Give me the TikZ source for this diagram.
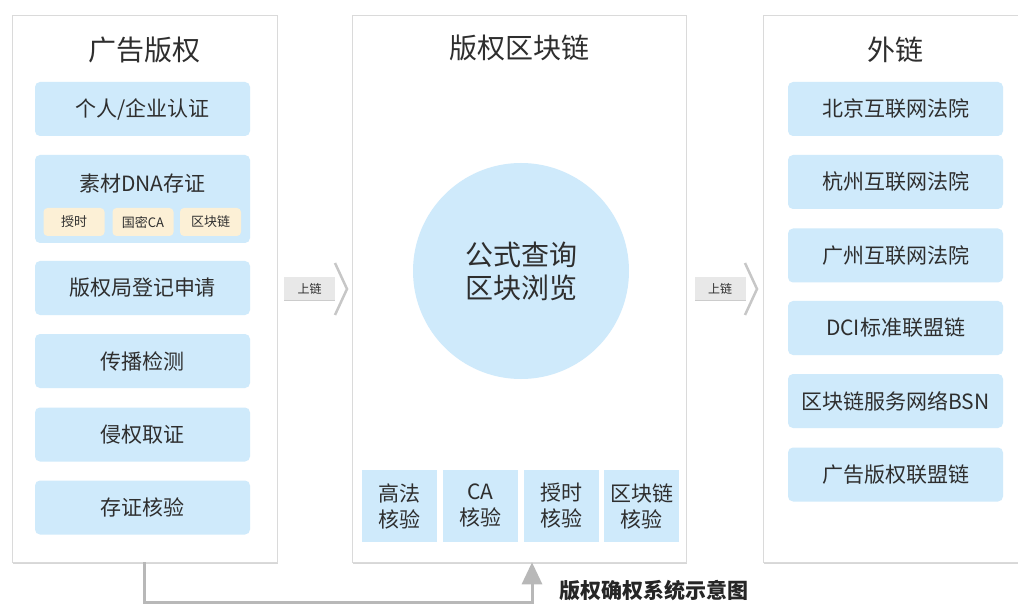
\documentclass[tikz,border=0pt]{standalone}
\usepackage{fontspec}
\setmainfont{Noto Sans CJK SC}
\usetikzlibrary{shadows,arrows.meta,calc}
\definecolor{boxblue}{HTML}{CFEAFB}
\definecolor{tagcream}{HTML}{FCF0D6}
\definecolor{txt}{HTML}{2E2E2E}
\definecolor{conn}{HTML}{B8B8B8}
\definecolor{edge}{HTML}{DADADA}
\begin{document}
\begin{tikzpicture}[x=1pt,y=-1pt,
  panel/.style={draw=edge, fill=white, line width=0.6pt, inner sep=0pt,
    drop shadow={shadow xshift=1.2pt, shadow yshift=-1.6pt, opacity=0.35, fill=black!45},
    minimum width=265pt, minimum height=547pt},
  ptitle/.style={font=\fontsize{28}{32}\selectfont, text=txt},
  item/.style={fill=boxblue, rounded corners=5pt, minimum width=215pt, minimum height=54pt,
    inner sep=0pt, font=\fontsize{21}{24}\selectfont, text=txt},
  tag/.style={fill=tagcream, rounded corners=4pt, minimum width=61pt, minimum height=28pt,
    inner sep=0pt, font=\fontsize{13}{15}\selectfont, text=txt},
  verify/.style={fill=boxblue, minimum width=75pt, minimum height=72pt, inner sep=0pt,
    align=center, font=\fontsize{21}{26}\selectfont, text=txt},
  uplabel/.style={fill=black!9, minimum width=51pt, minimum height=23pt, inner sep=0pt,
    font=\fontsize{12}{14}\selectfont, text=txt,
    drop shadow={shadow xshift=0pt, shadow yshift=-1pt, opacity=0.2, fill=black}},
  chev/.style={draw=black!22, line width=2.5pt, line join=miter},
  connline/.style={draw=conn, line width=3pt}
]
\useasboundingbox (0,0) rectangle (1018,604);

% panels
\node[panel] (left) at (144.5,288.5) {};
\node[panel, minimum width=334pt] (mid) at (519,288.5) {};
\node[panel] (right) at (895.5,288.5) {};

% titles
\node[ptitle] (lt) at (144,50) {广告版权};
\node[ptitle] (mt) at (519,48) {版权区块链};
\node[ptitle] (rt) at (895,50) {外链};

% left items
\node[item] (l1) at (142.5,109) {个人/企业认证};
\node[item, minimum height=88pt] (l2) at (142.5,199) {};
\node[font=\fontsize{21}{24}\selectfont, text=txt] (l2t) at (142.5,184) {素材DNA存证};
\node[tag] (t1) at (74,222) {授时};
\node[tag] (t2) at (143,222) {国密CA};
\node[tag] (t3) at (210.5,222) {区块链};
\node[item] (l3) at (142.5,288) {版权局登记申请};
\node[item] (l4) at (142.5,361) {传播检测};
\node[item] (l5) at (142.5,434.5) {侵权取证};
\node[item] (l6) at (142.5,507.5) {存证核验};

% middle
\node[circle, fill=boxblue, minimum size=216pt, inner sep=0pt, align=center,
  font=\fontsize{28}{33}\selectfont, text=txt] (circ) at (521,271) {公式查询\\区块浏览};
\node[verify] (v1) at (399.5,506) {高法\\核验};
\node[verify] (v2) at (480.5,506) {CA\\核验};
\node[verify] (v3) at (561,506) {授时\\核验};
\node[verify] (v4) at (641.5,506) {区块链\\核验};

% right items
\node[item] (r1) at (895.5,109) {北京互联网法院};
\node[item] (r2) at (895.5,182) {杭州互联网法院};
\node[item] (r3) at (895.5,255.5) {广州互联网法院};
\node[item] (r4) at (895.5,328) {DCI标准联盟链};
\node[item] (r5) at (895.5,401) {区块链服务网络BSN};
\node[item] (r6) at (895.5,474.5) {广告版权联盟链};

% up-chain arrows
\node[uplabel] (a1) at (309.5,288.5) {上链};
\coordinate (a1tip) at (347,289);
\draw[chev] ($(a1tip)+(-12,-26)$) -- (a1tip) -- ($(a1tip)+(-12,26)$);
\node[uplabel] (a2) at (720,288.5) {上链};
\coordinate (a2tip) at (757,289);
\draw[chev] ($(a2tip)+(-12,-26)$) -- (a2tip) -- ($(a2tip)+(-12,26)$);

% bottom connector
\coordinate (join) at (532,602);
\draw[connline, -{Triangle[width=20pt,length=22pt]}]
  (left.south) |- (join) -- (join |- mid.south);

% caption
\node[font=\fontsize{21}{24}\selectfont\bfseries, text=black!85, anchor=west] (cap) at (556,591) {版权确权系统示意图};
\end{tikzpicture}
\end{document}
